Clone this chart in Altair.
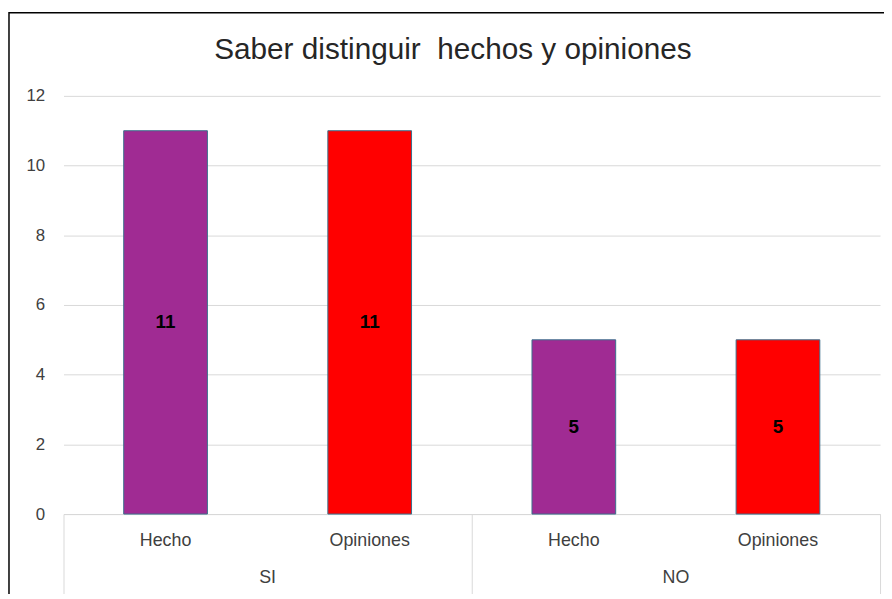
import altair as alt
import pandas as pd

grupos = ["SI", "SI", "NO", "NO"]
tipos = ["Hecho", "Opiniones", "Hecho", "Opiniones"]
valores = [11, 11, 5, 5]
grupo_orden = ["SI", "NO"]
tipo_colores = ["#A02B93", "#FF0000"]
titulo = "Saber distinguir \u00a0hechos y opiniones"

df = pd.DataFrame({"grupo": grupos, "tipo": tipos, "valor": valores})
df["clave"] = df["grupo"] + "|" + df["tipo"]
claves = list(df["clave"])

W, H = 824, 422
FONT = "Liberation Sans"

band = alt.Scale(paddingInner=0.59, paddingOuter=0.295)

x_key = alt.X(
    "clave:N",
    sort=claves,
    scale=band,
    axis=alt.Axis(
        orient="bottom",
        title=None,
        labelExpr="split(datum.label, '|')[1]",
        labelAngle=0,
        labelFontSize=18,
        labelFont=FONT,
        labelColor="#404040",
        labelPadding=18,
        ticks=False,
        domainColor="#d9d9d9",
        domainWidth=1,
    ),
)

base = alt.Chart(df)

bars = base.mark_bar(stroke="#3b6f8c", strokeWidth=1).encode(
    x=x_key,
    y=alt.Y(
        "valor:Q",
        scale=alt.Scale(domain=[0, 12], nice=False),
        axis=alt.Axis(
            title=None,
            values=[0, 2, 4, 6, 8, 10, 12],
            grid=True,
            gridColor="#d9d9d9",
            gridWidth=1,
            domain=False,
            ticks=False,
            labelFontSize=17,
            labelFont=FONT,
            labelColor="#404040",
            labelPadding=19,
        ),
    ),
    color=alt.Color(
        "tipo:N",
        scale=alt.Scale(domain=["Hecho", "Opiniones"], range=tipo_colores),
        legend=None,
    ),
)

labels = base.transform_calculate(mid="datum.valor / 2").mark_text(
    fontSize=19, fontWeight="bold", font=FONT, color="black", baseline="middle"
).encode(
    x=alt.X("clave:N", sort=claves),
    y=alt.Y("mid:Q"),
    text="valor:Q",
)

gdf = pd.DataFrame({"grupo": grupo_orden})
group_layer = alt.Chart(gdf).mark_text(
    fontSize=18, font=FONT, color="#404040", baseline="middle"
).encode(
    x=alt.X(
        "grupo:N",
        sort=grupo_orden,
        scale=alt.Scale(paddingInner=0, paddingOuter=0),
        axis=alt.Axis(
            orient="bottom",
            title=None,
            labels=False,
            domain=False,
            ticks=True,
            tickBand="extent",
            tickSize=90,
            tickColor="#d9d9d9",
            tickWidth=1,
        ),
    ),
    y=alt.value(H + 65),
    text="grupo:N",
)

one = pd.DataFrame({"t": [titulo]})
frame = alt.Chart(one).mark_rect(
    fillOpacity=0, stroke="black", strokeWidth=1.5
).encode(
    x=alt.value(-55), x2=alt.value(W + 60), y=alt.value(-84), y2=alt.value(H + 150)
)

title_mark = alt.Chart(one).mark_text(
    fontSize=30, font=FONT, color="#262626", baseline="middle", align="center"
).encode(
    x=alt.value(393), y=alt.value(-46), text="t:N"
)

chart = alt.layer(
    alt.layer(bars, labels),
    group_layer,
    frame,
    title_mark,
).resolve_scale(x="independent").properties(
    width=W,
    height=H,
    autosize=alt.AutoSizeParams(type="none"),
    padding={"left": 56, "top": 86, "right": 4, "bottom": 78},
).configure_view(strokeWidth=0)

chart.save("out.html", embed_options={"renderer": "svg", "actions": False})
